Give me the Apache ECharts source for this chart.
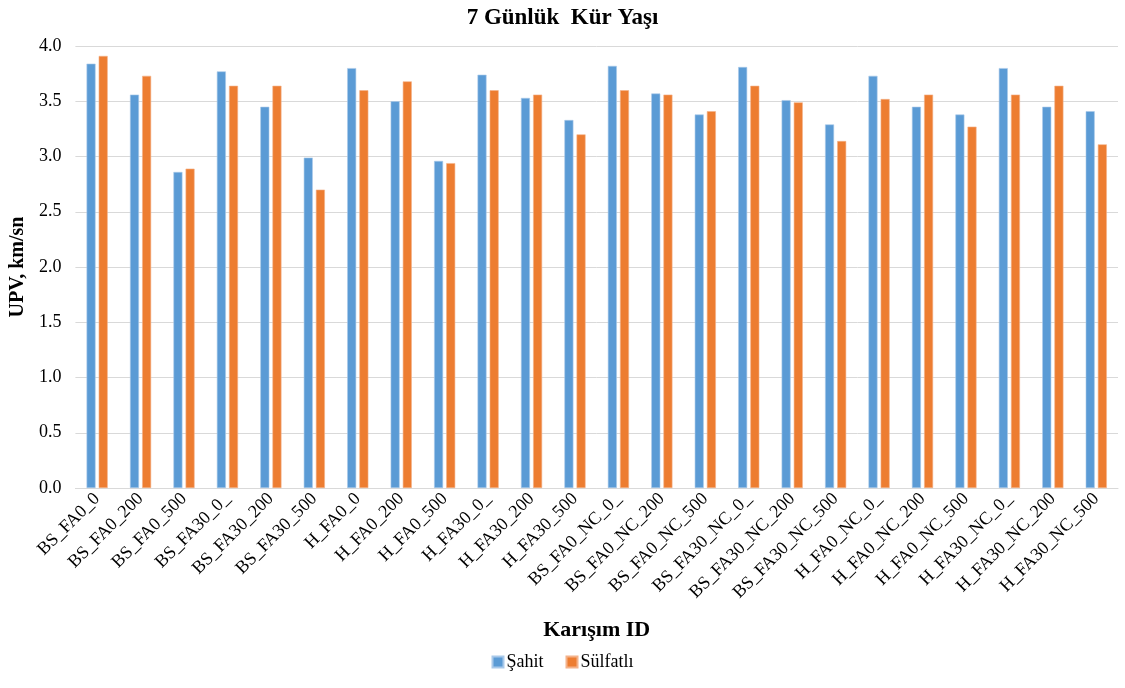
<!DOCTYPE html>
<html>
<head>
<meta charset="utf-8">
<script src="https://cdn.jsdelivr.net/npm/echarts@6/dist/echarts.min.js"></script>
<style>
  html, body { margin: 0; padding: 0; background: #fff; }
  #chart { width: 1125px; height: 688px; }
</style>
</head>
<body>
<div id="chart"></div>
<script>
// Mix identifiers along the x axis
const categories = [
  'BS_FA0_0', 'BS_FA0_200', 'BS_FA0_500',
  'BS_FA30_0_', 'BS_FA30_200', 'BS_FA30_500',
  'H_FA0_0', 'H_FA0_200', 'H_FA0_500',
  'H_FA30_0_', 'H_FA30_200', 'H_FA30_500',
  'BS_FA0_NC_0_', 'BS_FA0_NC_200', 'BS_FA0_NC_500',
  'BS_FA30_NC_0_', 'BS_FA30_NC_200', 'BS_FA30_NC_500',
  'H_FA0_NC_0_', 'H_FA0_NC_200', 'H_FA0_NC_500',
  'H_FA30_NC_0_', 'H_FA30_NC_200', 'H_FA30_NC_500'
];

// UPV (km/sn) at 7 days of curing
const sahit = [
  3.84, 3.56, 2.86,
  3.77, 3.45, 2.99,
  3.80, 3.50, 2.96,
  3.74, 3.53, 3.33,
  3.82, 3.57, 3.38,
  3.81, 3.51, 3.29,
  3.73, 3.45, 3.38,
  3.80, 3.45, 3.41
];
const sulfatli = [
  3.91, 3.73, 2.89,
  3.64, 3.64, 2.70,
  3.60, 3.68, 2.94,
  3.60, 3.56, 3.20,
  3.60, 3.56, 3.41,
  3.64, 3.49, 3.14,
  3.52, 3.56, 3.27,
  3.56, 3.64, 3.11
];

const seriesNames = ['Şahit', 'Sülfatlı'];
const yTicks = { min: 0, max: 4, interval: 0.5 };

const serif = '"Liberation Serif", "Times New Roman", serif';
const chart = echarts.init(document.getElementById('chart'), null, { renderer: 'canvas' });

chart.setOption({
  animation: false,
  backgroundColor: '#ffffff',
  textStyle: { fontFamily: serif, color: '#000' },
  title: {
    text: '7 Günlük  Kür Yaşı',
    left: 'center',
    top: 2,
    textStyle: { fontFamily: serif, fontSize: 23, fontWeight: 'bold', color: '#000' }
  },
  legend: {
    bottom: 12,
    left: 'center',
    itemWidth: 11,
    itemHeight: 11,
    itemGap: 22,
    icon: 'rect',
    textStyle: { fontFamily: serif, fontSize: 18, color: '#000', padding: [0, 0, 0, -2] },
    data: seriesNames
  },
  grid: { left: 73, right: 7, top: 46, bottom: 200, containLabel: false },
  xAxis: {
    type: 'category',
    data: categories,
    name: 'Karışım ID',
    nameLocation: 'middle',
    nameGap: 131,
    nameTextStyle: { fontFamily: serif, fontSize: 22, fontWeight: 'bold', color: '#000' },
    axisLine: { lineStyle: { color: '#d9d9d9', width: 1 } },
    axisTick: { show: false },
    axisLabel: {
      interval: 0,
      rotate: 45,
      margin: 8,
      fontFamily: serif,
      fontSize: 18,
      color: '#000'
    }
  },
  yAxis: {
    type: 'value',
    min: yTicks.min,
    max: yTicks.max,
    interval: yTicks.interval,
    name: 'UPV, km/sn',
    nameLocation: 'middle',
    nameGap: 46,
    nameTextStyle: { fontFamily: serif, fontSize: 20, fontWeight: 'bold', color: '#000' },
    axisLine: { show: false },
    axisTick: { show: false },
    axisLabel: {
      margin: 14,
      fontFamily: serif,
      fontSize: 18,
      color: '#000',
      formatter: v => v.toFixed(1)
    },
    splitLine: { lineStyle: { color: '#d9d9d9', width: 1 } }
  },
  series: [
    {
      name: seriesNames[0],
      type: 'bar',
      data: sahit,
      barWidth: 9,
      barGap: '35%',
      itemStyle: { color: '#5b9bd5', borderColor: '#a9c9ea', borderWidth: 0.6 }
    },
    {
      name: seriesNames[1],
      type: 'bar',
      data: sulfatli,
      barWidth: 9,
      barGap: '35%',
      itemStyle: { color: '#ed7d31', borderColor: '#f4b28a', borderWidth: 0.6 }
    }
  ]
});
</script>
</body>
</html>
